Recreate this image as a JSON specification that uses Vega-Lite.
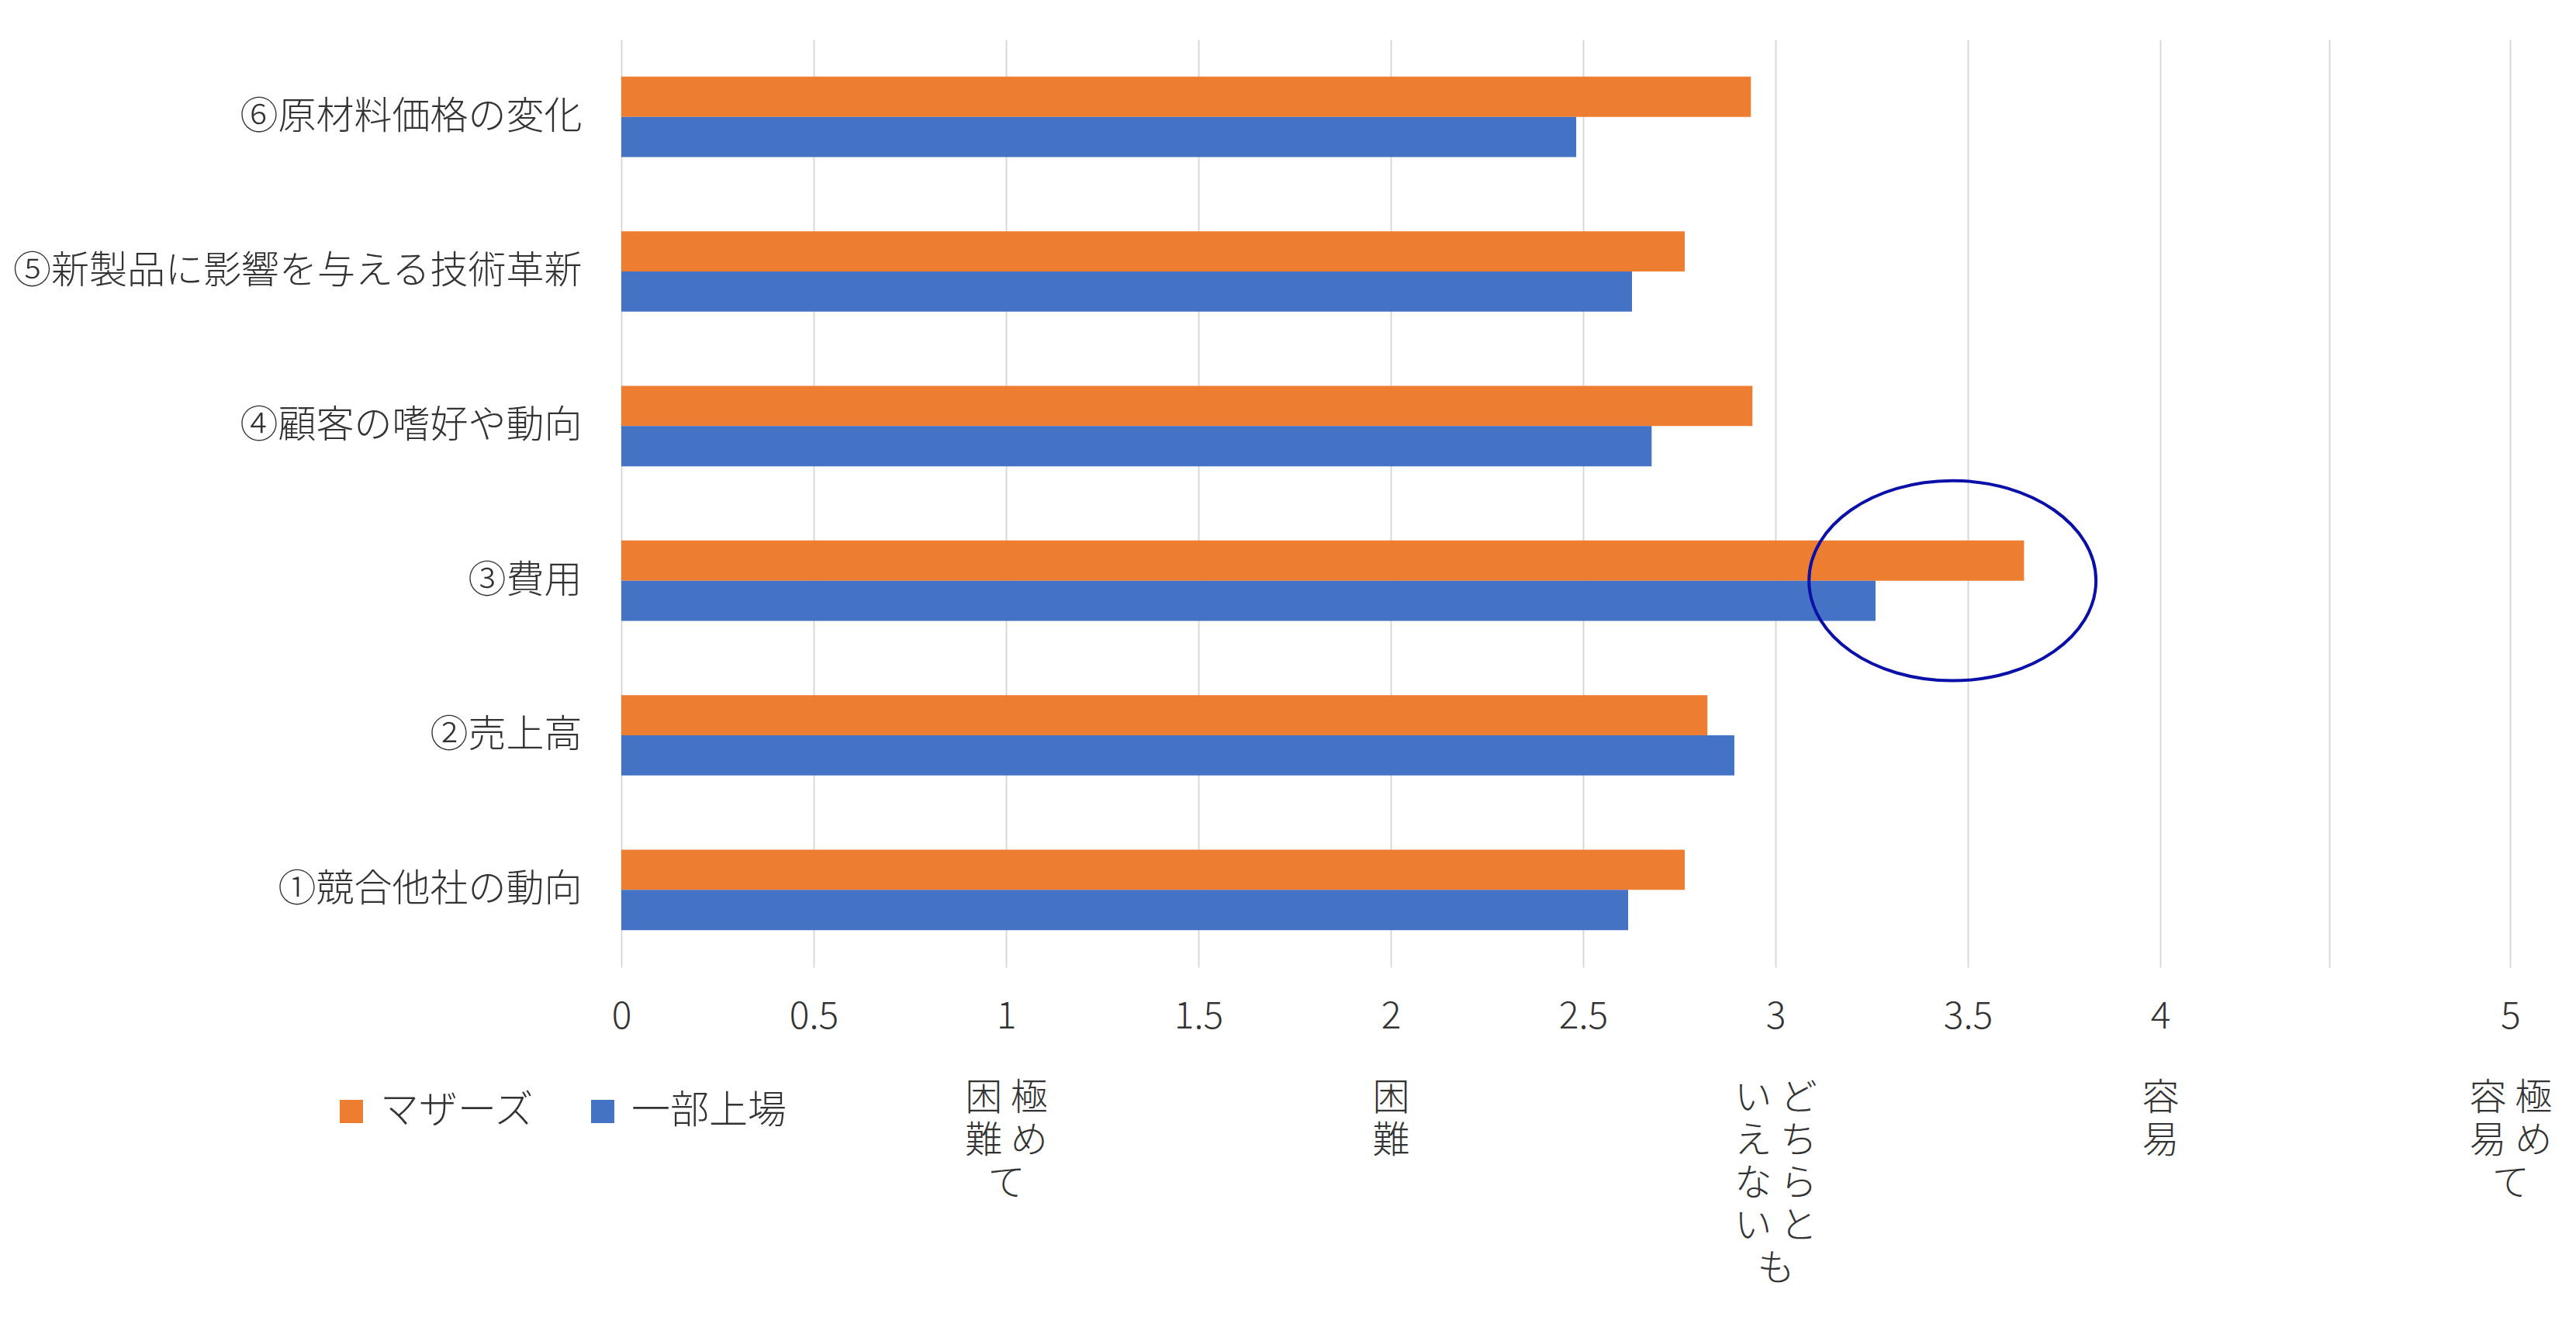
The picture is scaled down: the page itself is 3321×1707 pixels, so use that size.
{
  "$schema": "https://vega.github.io/schema/vega-lite/v6.json",
  "width": 2480,
  "height": 1196,
  "autosize": {"type": "none"},
  "padding": {"left": 801, "top": 51, "right": 40, "bottom": 460},
  "background": "white",
  "config": {"view": {"stroke": null}, "font": "Noto Sans CJK JP"},
  "data": {
    "values": [
      {"item": "①競合他社の動向", "group": "マザーズ", "score": 2.764},
      {"item": "①競合他社の動向", "group": "一部上場", "score": 2.617},
      {"item": "②売上高", "group": "マザーズ", "score": 2.823},
      {"item": "②売上高", "group": "一部上場", "score": 2.893},
      {"item": "③費用", "group": "マザーズ", "score": 3.646},
      {"item": "③費用", "group": "一部上場", "score": 3.26},
      {"item": "④顧客の嗜好や動向", "group": "マザーズ", "score": 2.94},
      {"item": "④顧客の嗜好や動向", "group": "一部上場", "score": 2.678},
      {"item": "⑤新製品に影響を与える技術革新", "group": "マザーズ", "score": 2.764},
      {"item": "⑤新製品に影響を与える技術革新", "group": "一部上場", "score": 2.627},
      {"item": "⑥原材料価格の変化", "group": "マザーズ", "score": 2.936},
      {"item": "⑥原材料価格の変化", "group": "一部上場", "score": 2.482}
    ]
  },
  "resolve": {"axis": {"x": "independent"}},
  "layer": [
    {
      "mark": {"type": "bar"},
      "encoding": {
        "x": {
          "field": "score",
          "type": "quantitative",
          "scale": {"domain": [0, 5], "nice": false, "zero": true},
          "axis": {
            "title": null,
            "orient": "bottom",
            "values": [0, 0.5, 1, 1.5, 2, 2.5, 3, 3.5, 4, 4.44, 4.91],
            "format": ".1~f",
            "grid": true,
            "gridColor": "#D9D9D9",
            "gridWidth": 2,
            "domain": false,
            "ticks": false,
            "tickSize": 0,
            "labelFont": "Noto Sans CJK JP",
            "labelFontSize": 48,
            "labelFontWeight": 300,
            "labelPadding": 40,
            "labelBaseline": "top",
            "labelFlush": false,
            "labelOverlap": false,
            "labelColor": "#333333",
            "labelLimit": 1000,
            "labelExpr": "datum.value === 4.91 ? '5' : datum.value === 4.44 ? '' : datum.label"
          }
        },
        "y": {
          "field": "item",
          "type": "nominal",
          "sort": ["⑥原材料価格の変化", "⑤新製品に影響を与える技術革新", "④顧客の嗜好や動向", "③費用", "②売上高", "①競合他社の動向"],
          "scale": {"paddingInner": 0.48, "paddingOuter": 0.24},
          "axis": {
            "title": null,
            "ticks": false,
            "tickSize": 0,
            "domain": false,
            "labelFont": "Noto Sans CJK JP",
            "labelFontSize": 49,
            "labelFontWeight": 300,
            "labelPadding": 51,
            "labelColor": "#333333",
            "labelLimit": 1000
          }
        },
        "yOffset": {
          "field": "group",
          "type": "nominal",
          "sort": ["マザーズ", "一部上場"],
          "scale": {"paddingInner": 0, "paddingOuter": 0}
        },
        "color": {
          "field": "group",
          "type": "nominal",
          "sort": ["マザーズ", "一部上場"],
          "scale": {"domain": ["マザーズ", "一部上場"], "range": ["#ED7D31", "#4472C4"]},
          "legend": {
            "title": null,
            "orient": "none",
            "legendX": -373,
            "legendY": 1357,
            "direction": "horizontal",
            "symbolType": "square",
            "symbolSize": 900,
            "symbolStrokeWidth": 0,
            "labelFont": "Noto Sans CJK JP",
            "labelFontSize": 50,
            "labelFontWeight": 300,
            "labelOffset": 12,
            "columnPadding": 62,
            "labelColor": "#333333",
            "labelLimit": 1000
          }
        }
      }
    },
    {
      "data": {"values": [{"item": "③費用", "score": 3.46}]},
      "mark": {
        "type": "point",
        "shape": "M -1 0 A 1 0.697 0 1 1 1 0 A 1 0.697 0 1 1 -1 0 Z",
        "size": 136900,
        "filled": false,
        "stroke": "#0B10A8",
        "strokeWidth": 4,
        "opacity": 1
      },
      "encoding": {
        "x": {
          "field": "score",
          "type": "quantitative",
          "axis": {
            "title": null,
            "orient": "bottom",
            "values": [1, 2, 3, 4, 4.91],
            "grid": false,
            "domain": false,
            "ticks": false,
            "tickSize": 0,
            "labelFont": "Noto Sans CJK JP",
            "labelFontSize": 48,
            "labelFontWeight": 300,
            "labelPadding": 145,
            "labelBaseline": "top",
            "labelLineHeight": 55,
            "labelFlush": false,
            "labelOverlap": false,
            "labelColor": "#333333",
            "labelLimit": 1000,
            "labelExpr": "datum.value === 1 ? ['困 極', '難 め', '\u3000 て'] : datum.value === 2 ? ['困', '難'] : datum.value === 3 ? ['い ど', 'え ち', 'な ら', 'い と', '\u3000 も'] : datum.value === 4 ? ['容', '易'] : ['容 極', '易 め', '\u3000 て']"
          }
        },
        "y": {
          "field": "item",
          "type": "nominal",
          "sort": ["⑥原材料価格の変化", "⑤新製品に影響を与える技術革新", "④顧客の嗜好や動向", "③費用", "②売上高", "①競合他社の動向"]
        }
      }
    }
  ]
}
